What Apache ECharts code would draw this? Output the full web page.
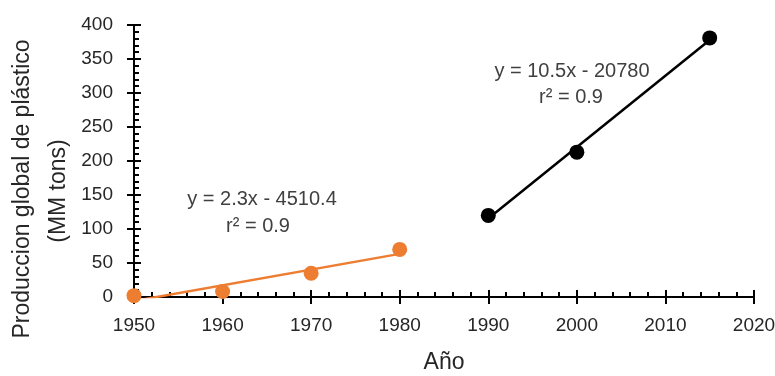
<!DOCTYPE html>
<html>
<head>
<meta charset="utf-8">
<script src="https://cdn.jsdelivr.net/npm/echarts@6/dist/echarts.min.js"></script>
<style>
  html, body { margin: 0; padding: 0; background: #fff; }
  #chart { width: 775px; height: 376px; }
</style>
</head>
<body>
<div id="chart"></div>
<script>
// Global plastic production (million tons) by year, two periods
const earlyYears = [1950, 1960, 1970, 1980];
const earlyValues = [2, 8, 35, 70];
const lateYears = [1990, 2000, 2015];
const lateValues = [120, 213, 381];

const earlyEquation = ['y = 2.3x - 4510.4', 'r² = 0.9'];
const lateEquation = ['y = 10.5x - 20780', 'r² = 0.9'];

const xTicks = { min: 1950, max: 2020, interval: 10 };
const yTicks = { min: 0, max: 400, interval: 50 };

const FONT = "'Liberation Sans', Arial, sans-serif";
const TEXT = '#262626';
const EQ = '#404040';
const ORANGE = '#ED7D31';

// Ordinary least squares fit, evaluated at the first and last year
function trend(xs, ys) {
  const n = xs.length;
  const mx = xs.reduce((a, b) => a + b, 0) / n;
  const my = ys.reduce((a, b) => a + b, 0) / n;
  let sxy = 0, sxx = 0;
  for (let i = 0; i < n; i++) {
    sxy += (xs[i] - mx) * (ys[i] - my);
    sxx += (xs[i] - mx) * (xs[i] - mx);
  }
  const slope = sxy / sxx;
  const icpt = my - slope * mx;
  const x0 = xs[0], x1 = xs[n - 1];
  return [[x0, slope * x0 + icpt], [x1, slope * x1 + icpt]];
}

const pairs = (xs, ys) => xs.map((x, i) => [x, ys[i]]);

const chart = echarts.init(document.getElementById('chart'), null, { renderer: 'canvas' });

const axisLine = { show: true, lineStyle: { color: '#000', width: 2 } };
const tickStyle = { color: '#000', width: 2 };

// Shifted copies of an axis that only draw tick marks, pointing back onto the axis line
function tickAxis(range, position, shift, majorLen, minorLen) {
  return {
    type: 'value', min: range.min, max: range.max, interval: range.interval,
    position: position, offset: -shift,
    axisLine: { show: false },
    axisTick: { show: majorLen > 0, inside: false, length: majorLen, lineStyle: tickStyle },
    minorTick: { show: minorLen > 0, splitNumber: 5, length: minorLen, lineStyle: tickStyle },
    splitLine: { show: false },
    minorSplitLine: { show: false },
    axisLabel: { show: false }
  };
}

chart.setOption({
  animation: false,
  backgroundColor: '#fff',
  grid: { left: 134, right: 21, top: 25, bottom: 79, containLabel: false, outerBoundsMode: 'none' },
  xAxis: [
    {
      type: 'value', min: xTicks.min, max: xTicks.max, interval: xTicks.interval,
      position: 'bottom',
      axisLine: axisLine,
      axisTick: { show: true, inside: false, length: 7, lineStyle: tickStyle },
      minorTick: { show: false },
      splitLine: { show: false },
      axisLabel: { color: TEXT, fontFamily: FONT, fontSize: 19, margin: 19, formatter: v => String(v) }
    },
    tickAxis(xTicks, 'bottom', 7, 7, 0),
    tickAxis(xTicks, 'bottom', 5, 0, 5)
  ],
  yAxis: [
    {
      type: 'value', min: yTicks.min, max: yTicks.max, interval: yTicks.interval,
      position: 'left',
      axisLine: axisLine,
      axisTick: { show: true, inside: false, length: 7, lineStyle: tickStyle },
      minorTick: { show: false },
      splitLine: { show: false },
      axisLabel: { color: TEXT, fontFamily: FONT, fontSize: 19, margin: 21 }
    },
    tickAxis(yTicks, 'left', 7, 7, 0),
    tickAxis(yTicks, 'left', 5, 0, 5)
  ],
  series: [
    {
      type: 'line', data: trend(earlyYears, earlyValues), symbol: 'none', clip: true,
      lineStyle: { color: ORANGE, width: 2.5 }, z: 3
    },
    {
      type: 'scatter', data: pairs(earlyYears, earlyValues), symbol: 'circle', symbolSize: 15,
      itemStyle: { color: ORANGE, opacity: 1 }, z: 2
    },
    {
      type: 'line', data: trend(lateYears, lateValues), symbol: 'none', clip: true,
      lineStyle: { color: '#000', width: 2.5 }, z: 3
    },
    {
      type: 'scatter', data: pairs(lateYears, lateValues), symbol: 'circle', symbolSize: 15,
      itemStyle: { color: '#000', opacity: 1 }, z: 2
    },
    // bind the tick-only axes so they share the same scales
    { type: 'scatter', xAxisIndex: 1, yAxisIndex: 1, data: [], silent: true },
    { type: 'scatter', xAxisIndex: 2, yAxisIndex: 2, data: [], silent: true }
  ],
  graphic: [
    {
      type: 'text', x: 23, y: 189, rotation: Math.PI / 2,
      style: { text: 'Produccion global de plástico', fill: TEXT, font: '23px ' + FONT, align: 'center', verticalAlign: 'middle' }
    },
    {
      type: 'text', x: 59, y: 191, rotation: Math.PI / 2,
      style: { text: '(MM tons)', fill: TEXT, font: '23px ' + FONT, align: 'center', verticalAlign: 'middle' }
    },
    {
      type: 'text', x: 444, y: 363,
      style: { text: 'Año', fill: TEXT, font: '23px ' + FONT, align: 'center', verticalAlign: 'middle' }
    },
    {
      type: 'text', x: 262, y: 199,
      style: { text: earlyEquation[0], fill: EQ, font: '20px ' + FONT, align: 'center', verticalAlign: 'middle' }
    },
    {
      type: 'text', x: 258, y: 226,
      style: { text: earlyEquation[1], fill: EQ, font: '20px ' + FONT, align: 'center', verticalAlign: 'middle' }
    },
    {
      type: 'text', x: 572, y: 71,
      style: { text: lateEquation[0], fill: EQ, font: '20px ' + FONT, align: 'center', verticalAlign: 'middle' }
    },
    {
      type: 'text', x: 571, y: 97,
      style: { text: lateEquation[1], fill: EQ, font: '20px ' + FONT, align: 'center', verticalAlign: 'middle' }
    }
  ]
});
</script>
</body>
</html>
